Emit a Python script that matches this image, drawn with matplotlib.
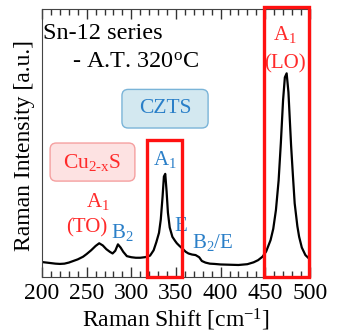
import matplotlib
matplotlib.use("Agg")
import matplotlib.pyplot as plt
from matplotlib.patches import Rectangle, FancyBboxPatch

plt.rcParams['font.family'] = ['Liberation Serif', 'DejaVu Serif']
plt.rcParams['mathtext.fontset'] = 'custom'
plt.rcParams['mathtext.rm'] = 'Liberation Serif'
plt.rcParams['mathtext.it'] = 'Liberation Serif:italic'

# Raman spectrum (shift in cm^-1, intensity in a.u.)
shift = [200, 205, 210, 215, 220, 225, 230, 235, 240, 246, 250, 255, 260, 264,
         268, 272, 276, 279, 282, 285, 288, 291, 295, 300, 305, 310, 315, 318,
         321, 325, 328, 331, 333, 335, 336.5, 338, 339.5, 341, 343, 346, 349,
         351, 354, 357, 361, 364, 368, 372, 376, 379, 383, 388, 393, 400, 410,
         420, 430, 437, 442, 447, 451, 456, 459, 462, 465, 467.5, 470, 472,
         474, 476, 479, 481, 483, 486, 488, 491, 495, 500]
intensity = [0.056, 0.054, 0.052, 0.050, 0.049, 0.050, 0.054, 0.060, 0.066,
             0.076, 0.086, 0.100, 0.116, 0.126, 0.118, 0.104, 0.094, 0.088,
             0.098, 0.122, 0.110, 0.094, 0.078, 0.074, 0.072, 0.072, 0.074,
             0.076, 0.080, 0.100, 0.130, 0.165, 0.215, 0.300, 0.375, 0.385,
             0.320, 0.240, 0.185, 0.150, 0.135, 0.126, 0.116, 0.107, 0.094,
             0.088, 0.084, 0.082, 0.074, 0.060, 0.054, 0.050, 0.049, 0.047,
             0.046, 0.045, 0.048, 0.055, 0.063, 0.076, 0.095, 0.138, 0.180,
             0.250, 0.360, 0.500, 0.660, 0.745, 0.760, 0.690, 0.490, 0.380,
             0.275, 0.190, 0.150, 0.110, 0.082, 0.066]

# highlighted regions: (x0, x1, top)
boxes = [(318, 357, 0.51), (448.5, 499.5, 1.008)]

# phase labels: (text, x0, x1, y0, y1, text colour, fill, edge)
phase_boxes = [
    ("CZTS", 289.5, 386, 0.556, 0.70, "#2a7fc8", "#d3e8f0", "#7ab4d8"),
    ("Cu$_{\\rm 2\\text{-}x}$S", 209, 304, 0.358, 0.50, "#ff2a2a", "#fde2e2", "#f5a0a0"),
]

# peak labels: (text, x, y, colour)
peak_labels = [
    ("A$_1$", 263, 0.28, "#ff2a2a"),
    ("(TO)", 250, 0.183, "#ff2a2a"),
    ("B$_2$", 290, 0.168, "#2a7fc8"),
    ("A$_1$", 337.5, 0.44, "#2a7fc8"),
    ("E", 355, 0.19, "#2a7fc8"),
    ("B$_2$/E", 391, 0.13, "#2a7fc8"),
    ("A$_1$", 472, 0.905, "#ff2a2a"),
    ("(LO)", 472, 0.795, "#ff2a2a"),
]

fig = plt.figure(figsize=(3.42, 3.33), dpi=100)
ax = fig.add_axes([0.123, 0.168, 0.783, 0.805])

ax.plot(shift, intensity, color="black", lw=1.6)

ax.set_xlim(200, 500)
ax.set_ylim(0, 1)
ax.set_xticks(range(200, 501, 50))
ax.set_xticks(range(200, 501, 10), minor=True)
ax.set_yticks([])
ax.tick_params(axis="x", which="both", direction="in", top=True, bottom=True,
               labelsize=17, pad=4, color="#333333")
ax.tick_params(axis="x", which="major", length=7, width=1)
ax.tick_params(axis="x", which="minor", length=4, width=1)
for s in ax.spines.values():
    s.set_color("#444444")

ax.set_xlabel("Raman Shift [cm$^{-1}$]", fontsize=17, labelpad=2)
ax.set_ylabel("Raman Intensity [a.u.]", fontsize=17)
ax.yaxis.set_label_coords(-0.025, 0.49)

for x0, x1, top in boxes:
    ax.add_patch(Rectangle((x0, 0), x1 - x0, top, fill=False, edgecolor="#ff1010",
                           lw=2.4, clip_on=False, zorder=5))

ax.text(0.005, 0.907, "Sn-12 series", transform=ax.transAxes, fontsize=17.5,
        ha="left", va="center")
ax.text(0.112, 0.802, "- A.T. 320$^{\\rm o}$C", transform=ax.transAxes, fontsize=17.5,
        ha="left", va="center")

aspect = 0.893 / 268
for txt, x0, x1, y0, y1, c, fc, ec in phase_boxes:
    ax.add_patch(FancyBboxPatch((x0, y0), x1 - x0, y1 - y0,
                                boxstyle="round,pad=0,rounding_size=7",
                                mutation_aspect=aspect, fc=fc, ec=ec, lw=1))
    ax.text((x0 + x1) / 2, (y0 + y1) / 2, txt, fontsize=15.5, color=c,
            ha="center", va="center")

for txt, x, y, c in peak_labels:
    ax.text(x, y, txt, fontsize=15, color=c, ha="center", va="center")

fig.savefig("out.png", dpi=100)
